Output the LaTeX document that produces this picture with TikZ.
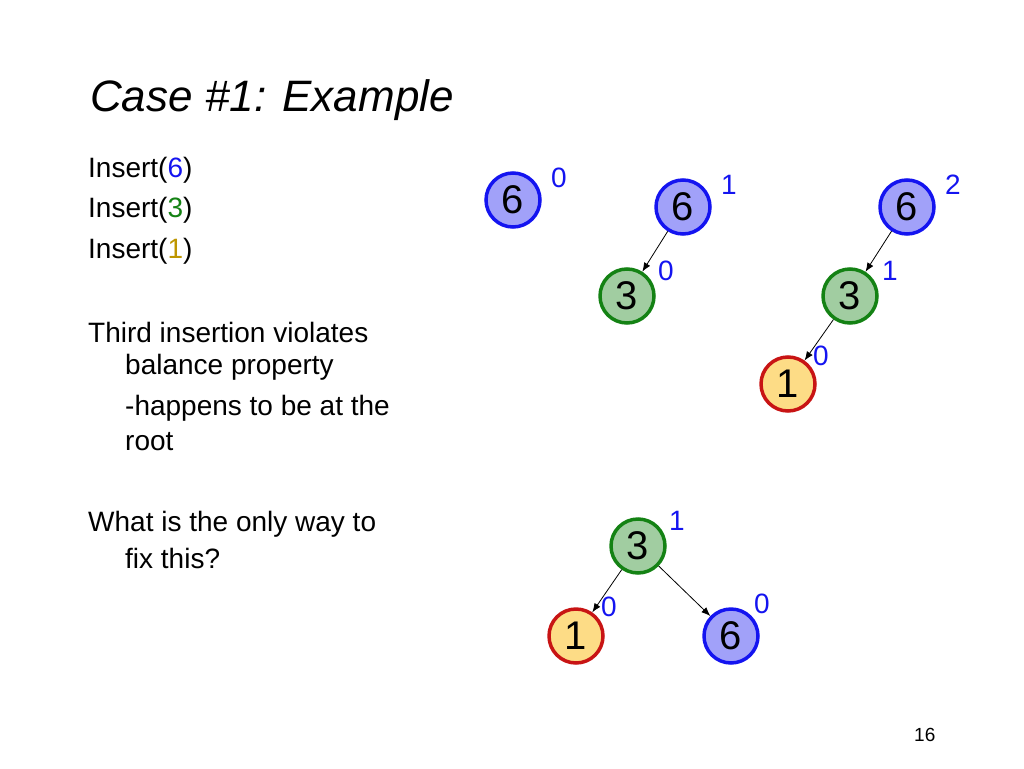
\documentclass[tikz,border=0pt]{standalone}
\usepackage{fontspec}
\setmainfont{Liberation Sans}
\usetikzlibrary{arrows.meta}
\definecolor{tblue}{RGB}{20,20,240}
\definecolor{tgreen}{RGB}{20,130,20}
\definecolor{tred}{RGB}{200,20,20}
\definecolor{tgold}{RGB}{190,150,0}
\begin{document}
\begin{tikzpicture}[x=1pt,y=-1pt,
 avl/.style={circle,minimum size=54pt,inner sep=0pt,line width=3.5pt,font=\fontsize{40}{40}\selectfont},
 bn/.style={avl,draw=tblue,fill=tblue!40},
 gn/.style={avl,draw=tgreen,fill=tgreen!40},
 rn/.style={avl,draw=tred,fill=yellow!45!orange!45},
 ht/.style={text=tblue,font=\fontsize{28}{28}\selectfont,inner sep=0pt},
 tx/.style={anchor=west,font=\fontsize{28}{32}\selectfont,inner sep=0pt},
 ed/.style={-{Latex[length=9pt,width=7pt]},line width=0.8pt}]
\useasboundingbox (0,0) rectangle (1024,768);
\node[anchor=west,inner sep=0pt,font=\fontsize{44}{44}\selectfont\itshape] (title) at (90,100) {Case \#1: Example};
\node[tx] (i1) at (88,170) {Insert(\textcolor{tblue}{6})};
\node[tx] (i2) at (88,210) {Insert(\textcolor{tgreen}{3})};
\node[tx] (i3) at (88,251) {Insert(\textcolor{tgold}{1})};
\node[tx] (t1) at (88,332) {Third insertion violates};
\node[tx] (t2) at (125,367) {balance property};
\node[tx] (t3) at (125,408) {-happens to be at the};
\node[tx] (t4) at (125,442) {root};
\node[tx] (w1) at (88,524) {What is the only way to};
\node[tx] (w2) at (125,558) {fix this?};
\node[tx,font=\fontsize{19}{19}\selectfont] (pg) at (914,735) {16};
\node[bn] (a6) at (513,200) {6};
\node[bn] (b6) at (683,207) {6};
\node[gn] (b3) at (627,296) {3};
\node[bn] (c6) at (907,207) {6};
\node[gn] (c3) at (850,296) {3};
\node[rn] (c1) at (788,384) {1};
\node[gn] (d3) at (638,546) {3};
\node[rn] (d1) at (576,636) {1};
\node[bn] (d6) at (731,636) {6};
\draw[ed] (b6) -- (b3);
\draw[ed] (c6) -- (c3);
\draw[ed] (c3) -- (c1);
\draw[ed] (d3) -- (d1);
\draw[ed] (d3) -- (d6);
\node[ht] (ha) at (559,178) {0};
\node[ht] (hb) at (729,185) {1};
\node[ht] (hb3) at (666,271) {0};
\node[ht] (hc) at (953,185) {2};
\node[ht] (hc3) at (890,271) {1};
\node[ht] (hc1) at (821,356) {0};
\node[ht] (hd) at (677,521) {1};
\node[ht] (hd1) at (609,607) {0};
\node[ht] (hd6) at (762,604) {0};
\end{tikzpicture}
\end{document}
